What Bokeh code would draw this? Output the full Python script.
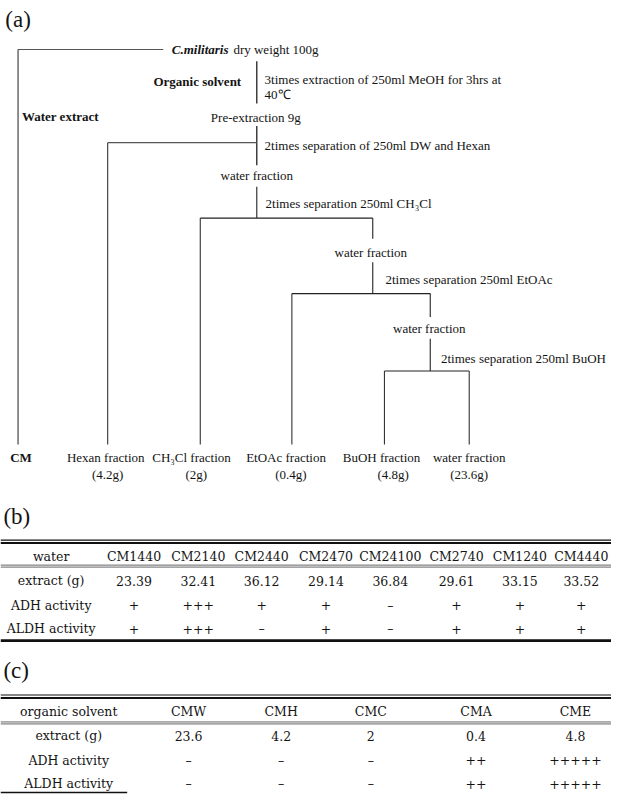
from bokeh.plotting import figure
from bokeh.models import Range1d
from bokeh.core.properties import value
from bokeh.embed import file_html
from bokeh.resources import INLINE

# ---------------- data ----------------
panel_labels = ["(a)", "(b)", "(c)"]
source_material = "C.militaris"
source_weight = "dry weight 100g"
organic_label = "Organic solvent"
water_label = "Water extract"
extraction_step = ["3times extraction of 250ml MeOH for 3hrs at", "40℃"]
pre_extraction = "Pre-extraction 9g"
separation_steps = ["2times separation of 250ml DW and Hexan",
                    "2times separation 250ml CH₃Cl",
                    "2times separation 250ml EtOAc",
                    "2times separation 250ml BuOH"]
intermediate = "water fraction"
crude_label = "CM"
fraction_names = ["Hexan fraction", "CH₃Cl fraction", "EtOAc fraction",
                  "BuOH fraction", "water fraction"]
fraction_weights = [4.2, 2, 0.4, 4.8, 23.6]

row_labels = ["extract (g)", "ADH activity", "ALDH activity"]

water_header = "water"
water_samples = ["CM1440", "CM2140", "CM2440", "CM2470", "CM24100",
                 "CM2740", "CM1240", "CM4440"]
water_extract = [23.39, 32.41, 36.12, 29.14, 36.84, 29.61, 33.15, 33.52]
water_adh = ["+", "+++", "+", "+", "–", "+", "+", "+"]
water_aldh = ["+", "+++", "–", "+", "–", "+", "+", "+"]

organic_header = "organic solvent"
organic_samples = ["CMW", "CMH", "CMC", "CMA", "CME"]
organic_extract = [23.6, 4.2, 2, 0.4, 4.8]
organic_adh = ["–", "–", "–", "++", "+++++"]
organic_aldh = ["–", "–", "–", "++", "+++++"]

# ---------------- figure ----------------
p = figure(width=611, height=794, x_range=Range1d(0, 627), y_range=Range1d(810, 0),
           output_backend="svg", toolbar_location=None, min_border=0)
p.xaxis.visible = False
p.yaxis.visible = False
p.grid.visible = False
p.outline_line_color = None
p.background_fill_color = "white"

SERIF = "Liberation Serif"
TSERIF = "DejaVu Serif"
INK = "#141414"


def txt(x, y, s, font=SERIF, size=13, style="normal", align="left", color=INK):
    p.text(x=[x], y=[y], text=[s], text_font=value(font),
           text_font_size=f"{size}px", text_font_style=style,
           text_align=align, text_baseline="middle", text_color=color)


def seg(x0, y0, x1, y1, w=1.1, color="#222222"):
    p.segment(x0=[x0], y0=[y0], x1=[x1], y1=[y1], line_width=w, line_color=color)


# ---------------- (a) flow chart ----------------
txt(5, 19, panel_labels[0], size=23)

bottom_y = 453
branch_x = [18, 110, 205, 299, 394, 481]          # CM + five fractions
split_y = [145, 222, 299, 378]                    # separation levels
stem_x = [263, 382, 441]

# source
seg(18, 50, 167, 50, color="#555555")
txt(234, 50, source_material, size=13, style="bold italic", align="right")
txt(239, 50, source_weight, size=13)
seg(263, 62, 263, 105, w=1.3)
txt(247, 83, organic_label, size=13, style="bold", align="right")
txt(271, 81, extraction_step[0], size=13)
txt(271, 96, extraction_step[1], size=13)
txt(22, 118, water_label, size=13, style="bold")
txt(262, 119, pre_extraction, size=13, align="center")

# separation 1 (hexane)
seg(263, 128, 263, 168, w=1.3)
seg(branch_x[1], split_y[0], 263, split_y[0], color="#555555")
txt(271, 148, separation_steps[0], size=13)
txt(263, 179, intermediate, size=13, align="center")

# separation 2 (CH3Cl)
seg(263, 190, 263, split_y[1])
txt(272, 207, separation_steps[1], size=13)
seg(branch_x[2], split_y[1], stem_x[1], split_y[1])
seg(stem_x[1], split_y[1], stem_x[1], 243)
txt(380, 257, intermediate, size=13, align="center")

# separation 3 (EtOAc)
seg(stem_x[1], 267, stem_x[1], split_y[2])
txt(395, 285, separation_steps[2], size=13)
seg(branch_x[3], split_y[2], stem_x[2], split_y[2])
seg(stem_x[2], split_y[2], stem_x[2], 323)
txt(440, 335, intermediate, size=13, align="center")

# separation 4 (BuOH)
seg(stem_x[2], 345, stem_x[2], split_y[3])
txt(452, 365, separation_steps[3], size=13)
seg(branch_x[4], split_y[3], branch_x[5], split_y[3])

# drop lines to the final products
tops = [50, split_y[0], split_y[1], split_y[2], split_y[3], split_y[3]]
for bx, ty in zip(branch_x, tops):
    seg(bx, ty, bx, bottom_y, color="#333333")

txt(21, 466, crude_label, size=13, style="bold", align="center")
name_x = [108, 196, 293, 391, 481]
weight_x = [110, 201, 298, 403, 481]
for nx, wx, nm, wt in zip(name_x, weight_x, fraction_names, fraction_weights):
    txt(nx, 466, nm, size=13, align="center")
    txt(wx, 484, f"({wt:g}g)", size=13, align="center")


# ---------------- tables ----------------
def table(top_y, header_y, hline_y, row_ys, bottom, first_x, col_x,
          header, samples, extract, adh, aldh):
    seg(0, top_y - 1.5, 627, top_y - 1.5, w=1.2, color="#111111")
    seg(0, top_y + 1.5, 627, top_y + 1.5, w=2.0, color="#111111")
    txt(first_x, header_y, header, font=TSERIF, size=12.5, align="center")
    for cx, s in zip(col_x, samples):
        txt(cx, header_y, s, font=TSERIF, size=12.5, align="center")
    seg(0, hline_y - 1, 627, hline_y - 1, w=1.0, color="#666666")
    seg(0, hline_y + 1, 627, hline_y + 1, w=1.0, color="#666666")
    rows = [[f"{v:g}" for v in extract], adh, aldh]
    for ry, lab, vals in zip(row_ys, row_labels, rows):
        txt(first_x, ry, lab, font=TSERIF, size=12.5, align="center")
        for cx, v in zip(col_x, vals):
            txt(cx, ry, v, font=TSERIF, size=12.5, align="center")
    bottom()


# (b)
txt(3, 526, panel_labels[1], size=23)
table(552, 567, 577, [592, 617, 641],
      lambda: seg(0, 653, 627, 653, w=2.6, color="#111111"),
      52, [137, 203, 268, 334, 400, 468, 533, 596],
      water_header, water_samples, water_extract, water_adh, water_aldh)

# (c)
txt(3, 683, panel_labels[2], size=23)
table(710, 725, 737, [750, 775, 799],
      lambda: seg(0, 808, 130, 808, w=1.4, color="#111111"),
      70, [193, 288, 380, 488, 590],
      organic_header, organic_samples, organic_extract, organic_adh, organic_aldh)

open("out.html", "w").write(file_html(p, INLINE))
